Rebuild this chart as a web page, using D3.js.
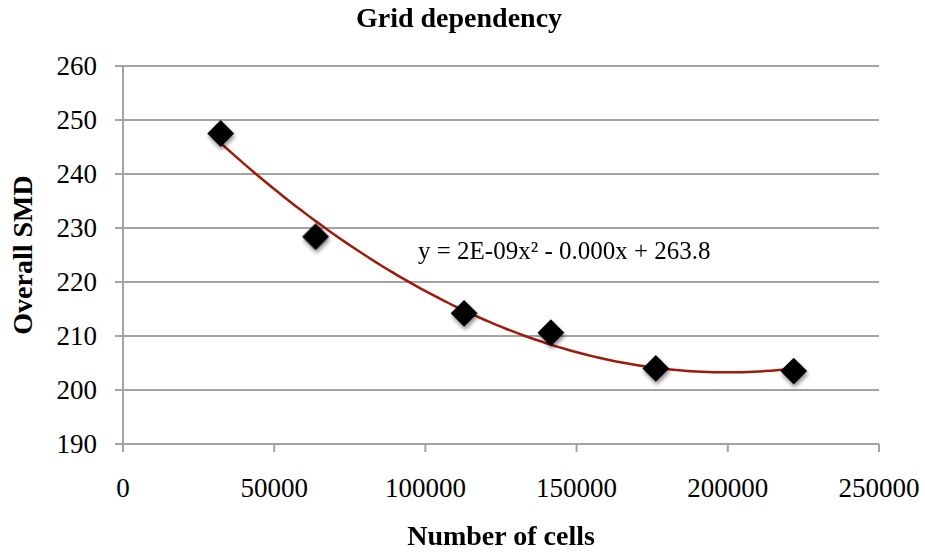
<!DOCTYPE html>
<html>
<head>
<meta charset="utf-8">
<script src="https://cdn.jsdelivr.net/npm/d3@7/dist/d3.min.js"></script>
<style>
  html, body { margin: 0; padding: 0; background: #fff; }
  svg text { font-family: "Liberation Serif", "Times New Roman", serif; fill: #000; }
</style>
</head>
<body>
<svg id="chart" width="925" height="554"></svg>
<script>
// Grid-dependency study: mesh size vs. overall SMD
const cellCounts = [32300, 63700, 112800, 141500, 176200, 221800];
const smdValues  = [247.5, 228.4, 214.2, 210.6, 204.0, 203.5];
const xTicks = [0, 50000, 100000, 150000, 200000, 250000];
const yTicks = [190, 200, 210, 220, 230, 240, 250, 260];
const chartTitle = "Grid dependency";
const xTitle = "Number of cells";
const yTitle = "Overall SMD";
const trendLabel = "y = 2E-09x\u00B2 - 0.000x + 263.8";

const svg = d3.select("#chart");
const plot = { left: 123, right: 879, top: 66, bottom: 444 };

const x = d3.scaleLinear().domain([0, 250000]).range([plot.left, plot.right]);
const y = d3.scaleLinear().domain([190, 260]).range([plot.bottom, plot.top]);

const gridColor = "#a3a3a3";

// drop shadow for markers
const defs = svg.append("defs");
const f = defs.append("filter").attr("id", "shadow")
  .attr("x", "-50%").attr("y", "-50%").attr("width", "200%").attr("height", "200%");
f.append("feGaussianBlur").attr("in", "SourceAlpha").attr("stdDeviation", 2.2).attr("result", "b");
f.append("feOffset").attr("in", "b").attr("dx", 1).attr("dy", 3).attr("result", "o");
f.append("feComponentTransfer").attr("in", "o").attr("result", "s")
  .append("feFuncA").attr("type", "linear").attr("slope", 0.45);
const m = f.append("feMerge");
m.append("feMergeNode").attr("in", "s");
m.append("feMergeNode").attr("in", "SourceGraphic");

// horizontal gridlines
svg.append("g")
  .selectAll("line").data(yTicks).join("line")
  .attr("x1", plot.left - 8).attr("x2", plot.right)
  .attr("y1", d => y(d)).attr("y2", d => y(d))
  .attr("stroke", gridColor).attr("stroke-width", 2);

// y axis line
svg.append("line")
  .attr("x1", plot.left).attr("x2", plot.left)
  .attr("y1", plot.top).attr("y2", plot.bottom + 7)
  .attr("stroke", gridColor).attr("stroke-width", 2);

// x tick marks
svg.append("g")
  .selectAll("line").data(xTicks).join("line")
  .attr("x1", d => x(d)).attr("x2", d => x(d))
  .attr("y1", plot.bottom).attr("y2", plot.bottom + 8)
  .attr("stroke", gridColor).attr("stroke-width", 2);

// tick labels
svg.append("g")
  .selectAll("text").data(yTicks).join("text")
  .attr("x", 97).attr("y", d => y(d))
  .attr("text-anchor", "end").attr("dominant-baseline", "central")
  .style("font-size", "27px")
  .text(d => d);

svg.append("g")
  .selectAll("text").data(xTicks).join("text")
  .attr("x", d => x(d)).attr("y", 497)
  .attr("text-anchor", "middle")
  .style("font-size", "27px")
  .text(d => d);

// polynomial (order 2) least-squares trendline
function polyFit2(xs, ys) {
  const s = k => d3.sum(xs, v => Math.pow(v, k));
  const t = k => d3.sum(xs, (v, i) => Math.pow(v, k) * ys[i]);
  const A = [[s(4), s(3), s(2)], [s(3), s(2), s(1)], [s(2), s(1), xs.length]];
  const B = [t(2), t(1), t(0)];
  // Gaussian elimination
  for (let i = 0; i < 3; i++) {
    for (let j = i + 1; j < 3; j++) {
      const r = A[j][i] / A[i][i];
      for (let k = i; k < 3; k++) A[j][k] -= r * A[i][k];
      B[j] -= r * B[i];
    }
  }
  const c = [0, 0, 0];
  for (let i = 2; i >= 0; i--) {
    let v = B[i];
    for (let k = i + 1; k < 3; k++) v -= A[i][k] * c[k];
    c[i] = v / A[i][i];
  }
  return c; // [a, b, c]
}
const coef = polyFit2(cellCounts, smdValues);
const xMin = d3.min(cellCounts), xMax = d3.max(cellCounts);
const trendPts = d3.range(0, 101).map(i => {
  const xv = xMin + (xMax - xMin) * i / 100;
  return [xv, coef[0] * xv * xv + coef[1] * xv + coef[2]];
});
svg.append("path")
  .datum(trendPts)
  .attr("d", d3.line().x(d => x(d[0])).y(d => y(d[1])))
  .attr("fill", "none").attr("stroke", "#a01a0a").attr("stroke-width", 2.5);

// markers
svg.append("g").attr("filter", "url(#shadow)")
  .selectAll("path").data(cellCounts.map((c, i) => [c, smdValues[i]])).join("path")
  .attr("d", d3.symbol().type(d3.symbolSquare).size(360))
  .attr("transform", d => `translate(${x(d[0])},${y(d[1])}) rotate(45)`)
  .attr("fill", "#000");

// trendline equation
svg.append("text")
  .attr("x", 418).attr("y", 259)
  .style("font-size", "25px")
  .text(trendLabel);

// titles
svg.append("text")
  .attr("x", 459).attr("y", 27)
  .attr("text-anchor", "middle")
  .style("font-size", "28px").style("font-weight", "bold")
  .text(chartTitle);

svg.append("text")
  .attr("x", 501).attr("y", 545)
  .attr("text-anchor", "middle")
  .style("font-size", "28px").style("font-weight", "bold")
  .text(xTitle);

svg.append("text")
  .attr("transform", "translate(32,255) rotate(-90)")
  .attr("text-anchor", "middle")
  .style("font-size", "28px").style("font-weight", "bold")
  .text(yTitle);
</script>
</body>
</html>
